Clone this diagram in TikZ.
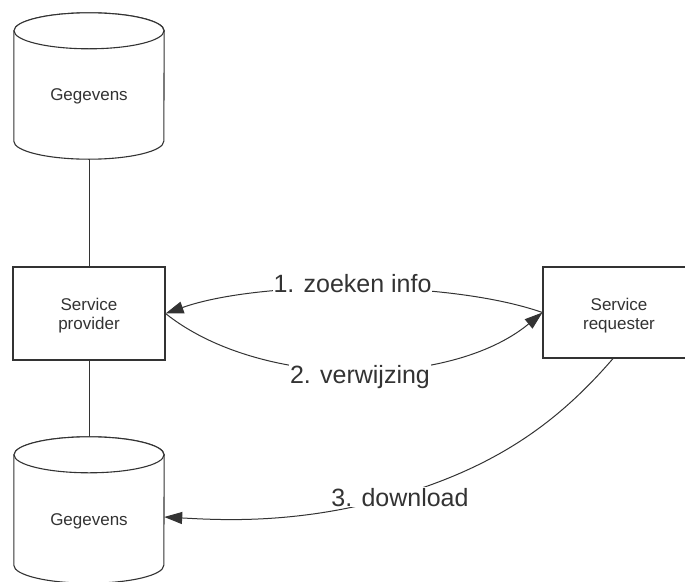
\documentclass[tikz,border=0pt]{standalone}
\usepackage{fontspec}
\setmainfont{Liberation Sans}
\usetikzlibrary{arrows.meta,calc}
\definecolor{ink}{HTML}{333333}
\definecolor{txt}{HTML}{333333}
\tikzset{
  shapebox/.style={draw=ink, line width=1.1pt, fill=white, minimum width=152pt},
  boxtext/.style={text=txt, align=center, font=\fontsize{17}{19}\selectfont},
  cylholder/.style={draw=none, minimum width=150pt, minimum height=146pt, inner sep=0pt},
  cylline/.style={draw=ink, line width=1.1pt, fill=white},
  cyltext/.style={text=txt, font=\fontsize{17}{19}\selectfont, anchor=base},
  link/.style={draw=ink, line width=1pt},
  flow/.style={draw=ink, line width=1pt, -{Triangle[length=18pt,width=12pt]}},
  flowlabel/.style={text=txt, fill=white, inner sep=1pt, anchor=base, font=\fontsize{25}{28}\selectfont}
}
\newcommand{\drawcyl}[1]{%
  \path[cylline] ([yshift=-18pt]#1.north west) -- ([yshift=18pt]#1.south west)
    arc[start angle=180, end angle=360, x radius=75pt, y radius=18pt]
    -- ([yshift=-18pt]#1.north east)
    arc[start angle=0, end angle=180, x radius=75pt, y radius=18pt] -- cycle;
  \draw[cylline] ([yshift=-18pt]#1.north) ellipse [x radius=75pt, y radius=18pt];
}
\begin{document}
\begin{tikzpicture}[x=1pt,y=1pt]
\useasboundingbox (0,0) rectangle (685,-581);
\clip (0,0) rectangle (685,-581);
\fill[white] (0,0) rectangle (685,-581);

% nodes
\node[cylholder] (g1) at (89,-86) {};
\node[cylholder] (g2) at (89,-510) {};
\node[shapebox, minimum height=93pt] (prov) at (89,-313.5) {};
\node[shapebox, minimum height=91pt] (req) at (619,-312.5) {};
\node[boxtext] (provt) at (89,-315.5) {Service\\provider};
\node[boxtext] (reqt) at (619,-315.5) {Service\\requester};

% vertical links
\draw[link] (g1.south) -- (prov.north);
\draw[link] (prov.south) -- (g2.north);

% cylinders
\drawcyl{g1}
\drawcyl{g2}
\node[cyltext] (t1) at (89,-100) {Gegevens};
\node[cyltext] (t2) at (89,-525) {Gegevens};

% flows
\draw[flow] (req.west) .. controls (450,-280) and (260,-280) .. (prov.east);
\draw[flow] (prov.east) .. controls (260,-389) and (450,-389) .. (req.west);
\draw[flow] ([xshift=-6pt]req.south) .. controls (560,-420) and (500,-465) .. (400,-495)
  .. controls (300,-525) and (220,-520) .. ([yshift=-7pt]g2.east);

% labels
\node[flowlabel] (l1) at (352.5,-292) {1. zoeken info};
\node[flowlabel] (l2) at (360,-383) {2. verwijzing};
\node[flowlabel] (l3) at (400,-506) {3. download};
\end{tikzpicture}
\end{document}
